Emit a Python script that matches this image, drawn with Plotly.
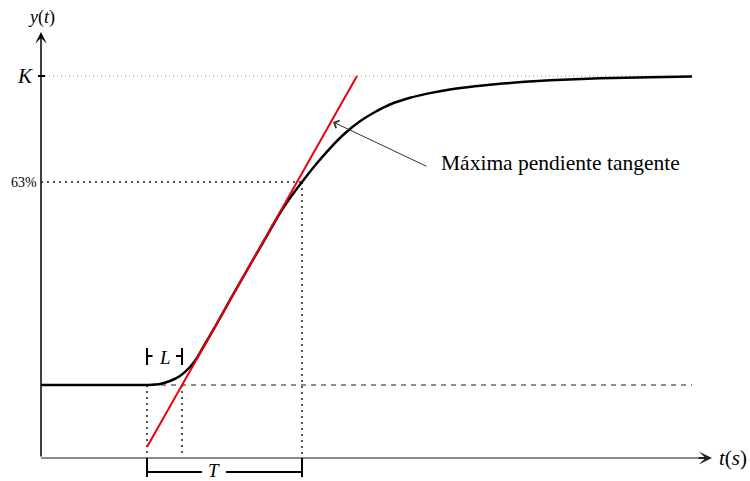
import plotly.graph_objects as go

# ---- data (t in arbitrary time units, y in arbitrary output units) ----
t_curve = [0, 5.9, 10.4, 11.1, 11.9, 12.9, 13.9, 14.9, 15.6, 16.4, 17.4, 18.9,
           20.9, 22.4, 23.9, 24.9, 26.1, 27.4, 28.9, 30.4, 31.9, 33.4, 34.9,
           36.9, 38.9, 40.9, 43.4, 45.9, 48.4, 50.9, 55.9, 60.9, 65.1]
y_curve = [7.3, 7.3, 7.3, 7.33, 7.4, 7.7, 8.2, 9.1, 10.0, 11.4, 13.1, 15.8,
           19.3, 21.9, 24.5, 26.0, 27.6, 29.25, 30.97, 32.47, 33.67, 34.6, 35.35,
           36.02, 36.49, 36.85, 37.17, 37.42, 37.62, 37.77, 37.97, 38.07, 38.15]

tangent_t = [10.6, 31.6]
tangent_y = [1.1, 38.2]

K_value = 38.2
y63_value = 27.6
y_base = 7.3
t_L_start = 10.6
t_L_end = 14.1
t_63 = 26.1
t_curve_end = 65.1
t_axis_end = 67.1
y_axis_end = 42.6

label_K = "K"
label_63 = "63%"
label_L = "L"
label_T = "T"
label_tangent = "Máxima pendiente tangente"

SERIF = "Liberation Serif, Times New Roman, serif"

fig = go.Figure()
fig.add_trace(go.Scatter(x=t_curve, y=y_curve, mode="lines",
                         line=dict(color="black", width=2.5, shape="spline", smoothing=0.5),
                         hoverinfo="skip"))
fig.add_trace(go.Scatter(x=tangent_t, y=tangent_y, mode="lines",
                         line=dict(color="#e8000b", width=2), hoverinfo="skip"))

shapes = []
def seg(x0, y0, x1, y1, color, width, dash="solid", layer="below"):
    shapes.append(dict(type="line", xref="x", yref="y", x0=x0, y0=y0, x1=x1, y1=y1,
                       line=dict(color=color, width=width, dash=dash), layer=layer))

# reference lines
seg(0, K_value, t_curve_end, K_value, "#9a9a9a", 1, "1px,3px")
seg(0, y63_value, t_63, y63_value, "#555555", 2, "2px,4px")
seg(0, y_base, t_curve_end, y_base, "#8c8c8c", 2, "5px,5px")
seg(t_L_start, y_base, t_L_start, 0, "#555555", 2, "2px,4px")
seg(t_L_end, y_base, t_L_end, 0, "#555555", 2, "2px,4px")
seg(t_63, y63_value, t_63, 0, "#555555", 2, "2px,4px")

# axes
seg(0, 0, t_axis_end - 1.0, 0, "#8c8c8c", 2, layer="above")
seg(-0.3, K_value, 0.4, K_value, "black", 2, layer="above")

# L bracket
yL = 10.2
seg(t_L_start, yL - 0.9, t_L_start, yL + 0.8, "black", 2, layer="above")
seg(t_L_end, yL - 0.9, t_L_end, yL + 0.8, "black", 2, layer="above")
seg(t_L_start, yL, t_L_start + 0.55, yL, "black", 2, layer="above")
seg(t_L_end - 0.6, yL, t_L_end, yL, "black", 2, layer="above")

# T bracket
yT = -1.4
seg(t_L_start, 0, t_L_start, -1.9, "black", 2, layer="above")
seg(t_63, 0, t_63, -1.9, "black", 2, layer="above")
seg(t_L_start, yT, 16.1, yT, "black", 2, layer="above")
seg(18.5, yT, t_63, yT, "black", 2, layer="above")

annotations = []
# y axis arrow
annotations.append(dict(x=0, y=y_axis_end, ax=0, ay=0, xref="x", yref="y", axref="x", ayref="y",
                        text="", showarrow=True, arrowhead=3, arrowsize=1.3, arrowwidth=1.5,
                        arrowcolor="black"))
# x axis arrow head
annotations.append(dict(x=t_axis_end, y=0, ax=t_axis_end - 1.5, ay=0, xref="x", yref="y",
                        axref="x", ayref="y", text="", showarrow=True, arrowhead=3,
                        arrowsize=1.1, arrowwidth=2, arrowcolor="#222222"))
# tangent pointer
annotations.append(dict(x=29.2, y=33.6, ax=38.7, ay=29.1, xref="x", yref="y", axref="x", ayref="y",
                        text="", showarrow=True, arrowhead=4, arrowsize=1.6, arrowwidth=1,
                        arrowcolor="#333333"))

def txt(x, y, s, size, xanchor="center", italic=False):
    annotations.append(dict(x=x, y=y, xref="x", yref="y", text=(f"<i>{s}</i>" if italic else s),
                            showarrow=False, xanchor=xanchor, yanchor="middle",
                            font=dict(family=SERIF, size=size, color="black")))

txt(0, 44.1, "<i>y</i>(<i>t</i>)", 18)
txt(-0.6, K_value, label_K, 21, xanchor="right", italic=True)
txt(-0.2, y63_value, label_63, 14, xanchor="right")
txt(67.6, 0, "<i>t</i>(<i>s</i>)", 21, xanchor="left")
txt(12.35, yL - 0.1, label_L, 19, italic=True)
txt(17.3, -1.2, label_T, 19, italic=True)
txt(39.8, 29.5, label_tangent, 21.5, xanchor="left")

fig.update_layout(
    width=750, height=481,
    margin=dict(l=0, r=0, t=0, b=0),
    paper_bgcolor="white", plot_bgcolor="white",
    showlegend=False,
    xaxis=dict(visible=False, range=[-4.1, 70.9], fixedrange=True),
    yaxis=dict(visible=False, range=[-2.3, 45.8], fixedrange=True),
    shapes=shapes, annotations=annotations,
)

fig.write_html("out.html")
